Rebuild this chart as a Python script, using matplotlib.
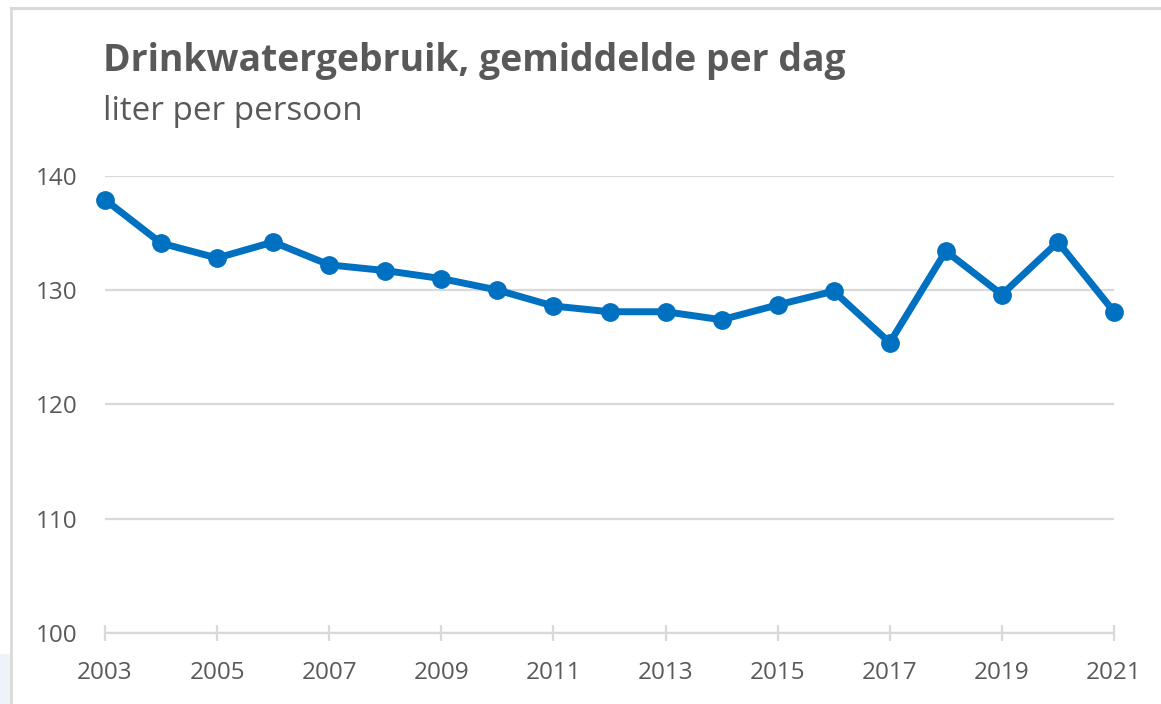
import matplotlib
matplotlib.use("Agg")
import matplotlib.pyplot as plt
from matplotlib.patches import Rectangle
from matplotlib.lines import Line2D

years = list(range(2003, 2022))
values = [137.9, 134.1, 132.8, 134.2, 132.2, 131.7, 131.0, 130.0, 128.6,
          128.1, 128.1, 127.4, 128.7, 129.9, 125.4, 133.4, 129.6, 134.2, 128.1]
xtick_years = list(range(2003, 2022, 2))
yticks = [100, 110, 120, 130, 140]

title = "Drinkwatergebruik, gemiddelde per dag"
subtitle = "liter per persoon"

TXT = "#595959"
GRID = "#d9d9d9"
BLUE = "#0070C0"
FONT = "Open Sans"

W, H = 1161, 704
fig = plt.figure(figsize=(W / 100, H / 100), dpi=100)
fig.patch.set_facecolor("white")

# faint blue tint at bottom-left corner and chart border
fig.add_artist(Rectangle((0, 0), 10 / W, 50 / H, transform=fig.transFigure,
                         facecolor="#eef3fa", edgecolor="none", zorder=0))
fig.add_artist(Line2D([11 / W, 11 / W], [0, 1 - 7.5 / H], transform=fig.transFigure,
                      color=GRID, lw=2))
fig.add_artist(Line2D([11 / W, 1], [1 - 7.5 / H, 1 - 7.5 / H], transform=fig.transFigure,
                      color=GRID, lw=2.2))

left, right = 105 / W, 1114 / W
bottom, top = 1 - 633 / H, 1 - 175.7 / H
ax = fig.add_axes([left, bottom, right - left, top - bottom])
ax.set_xlim(2003, 2021)
ax.set_ylim(100, 140)

for s in ["top", "right", "left"]:
    ax.spines[s].set_visible(False)
ax.spines["bottom"].set_color(GRID)
ax.spines["bottom"].set_linewidth(1.6)

ax.set_yticks(yticks)
ax.set_yticklabels([str(v) for v in yticks])
ax.grid(axis="y", color=GRID, linewidth=1.6)
ax.set_axisbelow(True)
ax.set_xticks(xtick_years)
ax.set_xticklabels([str(y) for y in xtick_years])

ax.tick_params(axis="y", length=0, pad=20, labelsize=17.5, labelcolor=TXT)
ax.tick_params(axis="x", direction="inout", length=12, width=1.6, color=GRID,
               pad=14, labelsize=17.5, labelcolor=TXT)
for lab in ax.get_xticklabels() + ax.get_yticklabels():
    lab.set_fontfamily(FONT)

ax.plot(years, values, color=BLUE, lw=5, marker="o", markersize=12.5,
        markerfacecolor=BLUE, markeredgecolor=BLUE, clip_on=False, zorder=3,
        solid_joinstyle="round")

t1 = fig.text(103 / W, 1 - 71 / H, title, fontsize=26, fontweight="bold",
              color=TXT, family=FONT, va="baseline", ha="left")
t2 = fig.text(103 / W, 1 - 120 / H, subtitle, fontsize=22,
              color=TXT, family=FONT, va="baseline", ha="left")

fig.canvas.draw()
r = fig.canvas.get_renderer()
for t, target in [(t1, 745), (t2, 259)]:
    w = t.get_window_extent(r).width
    t.set_fontsize(t.get_fontsize() * target / w)

fig.savefig("out.png", dpi=100)
